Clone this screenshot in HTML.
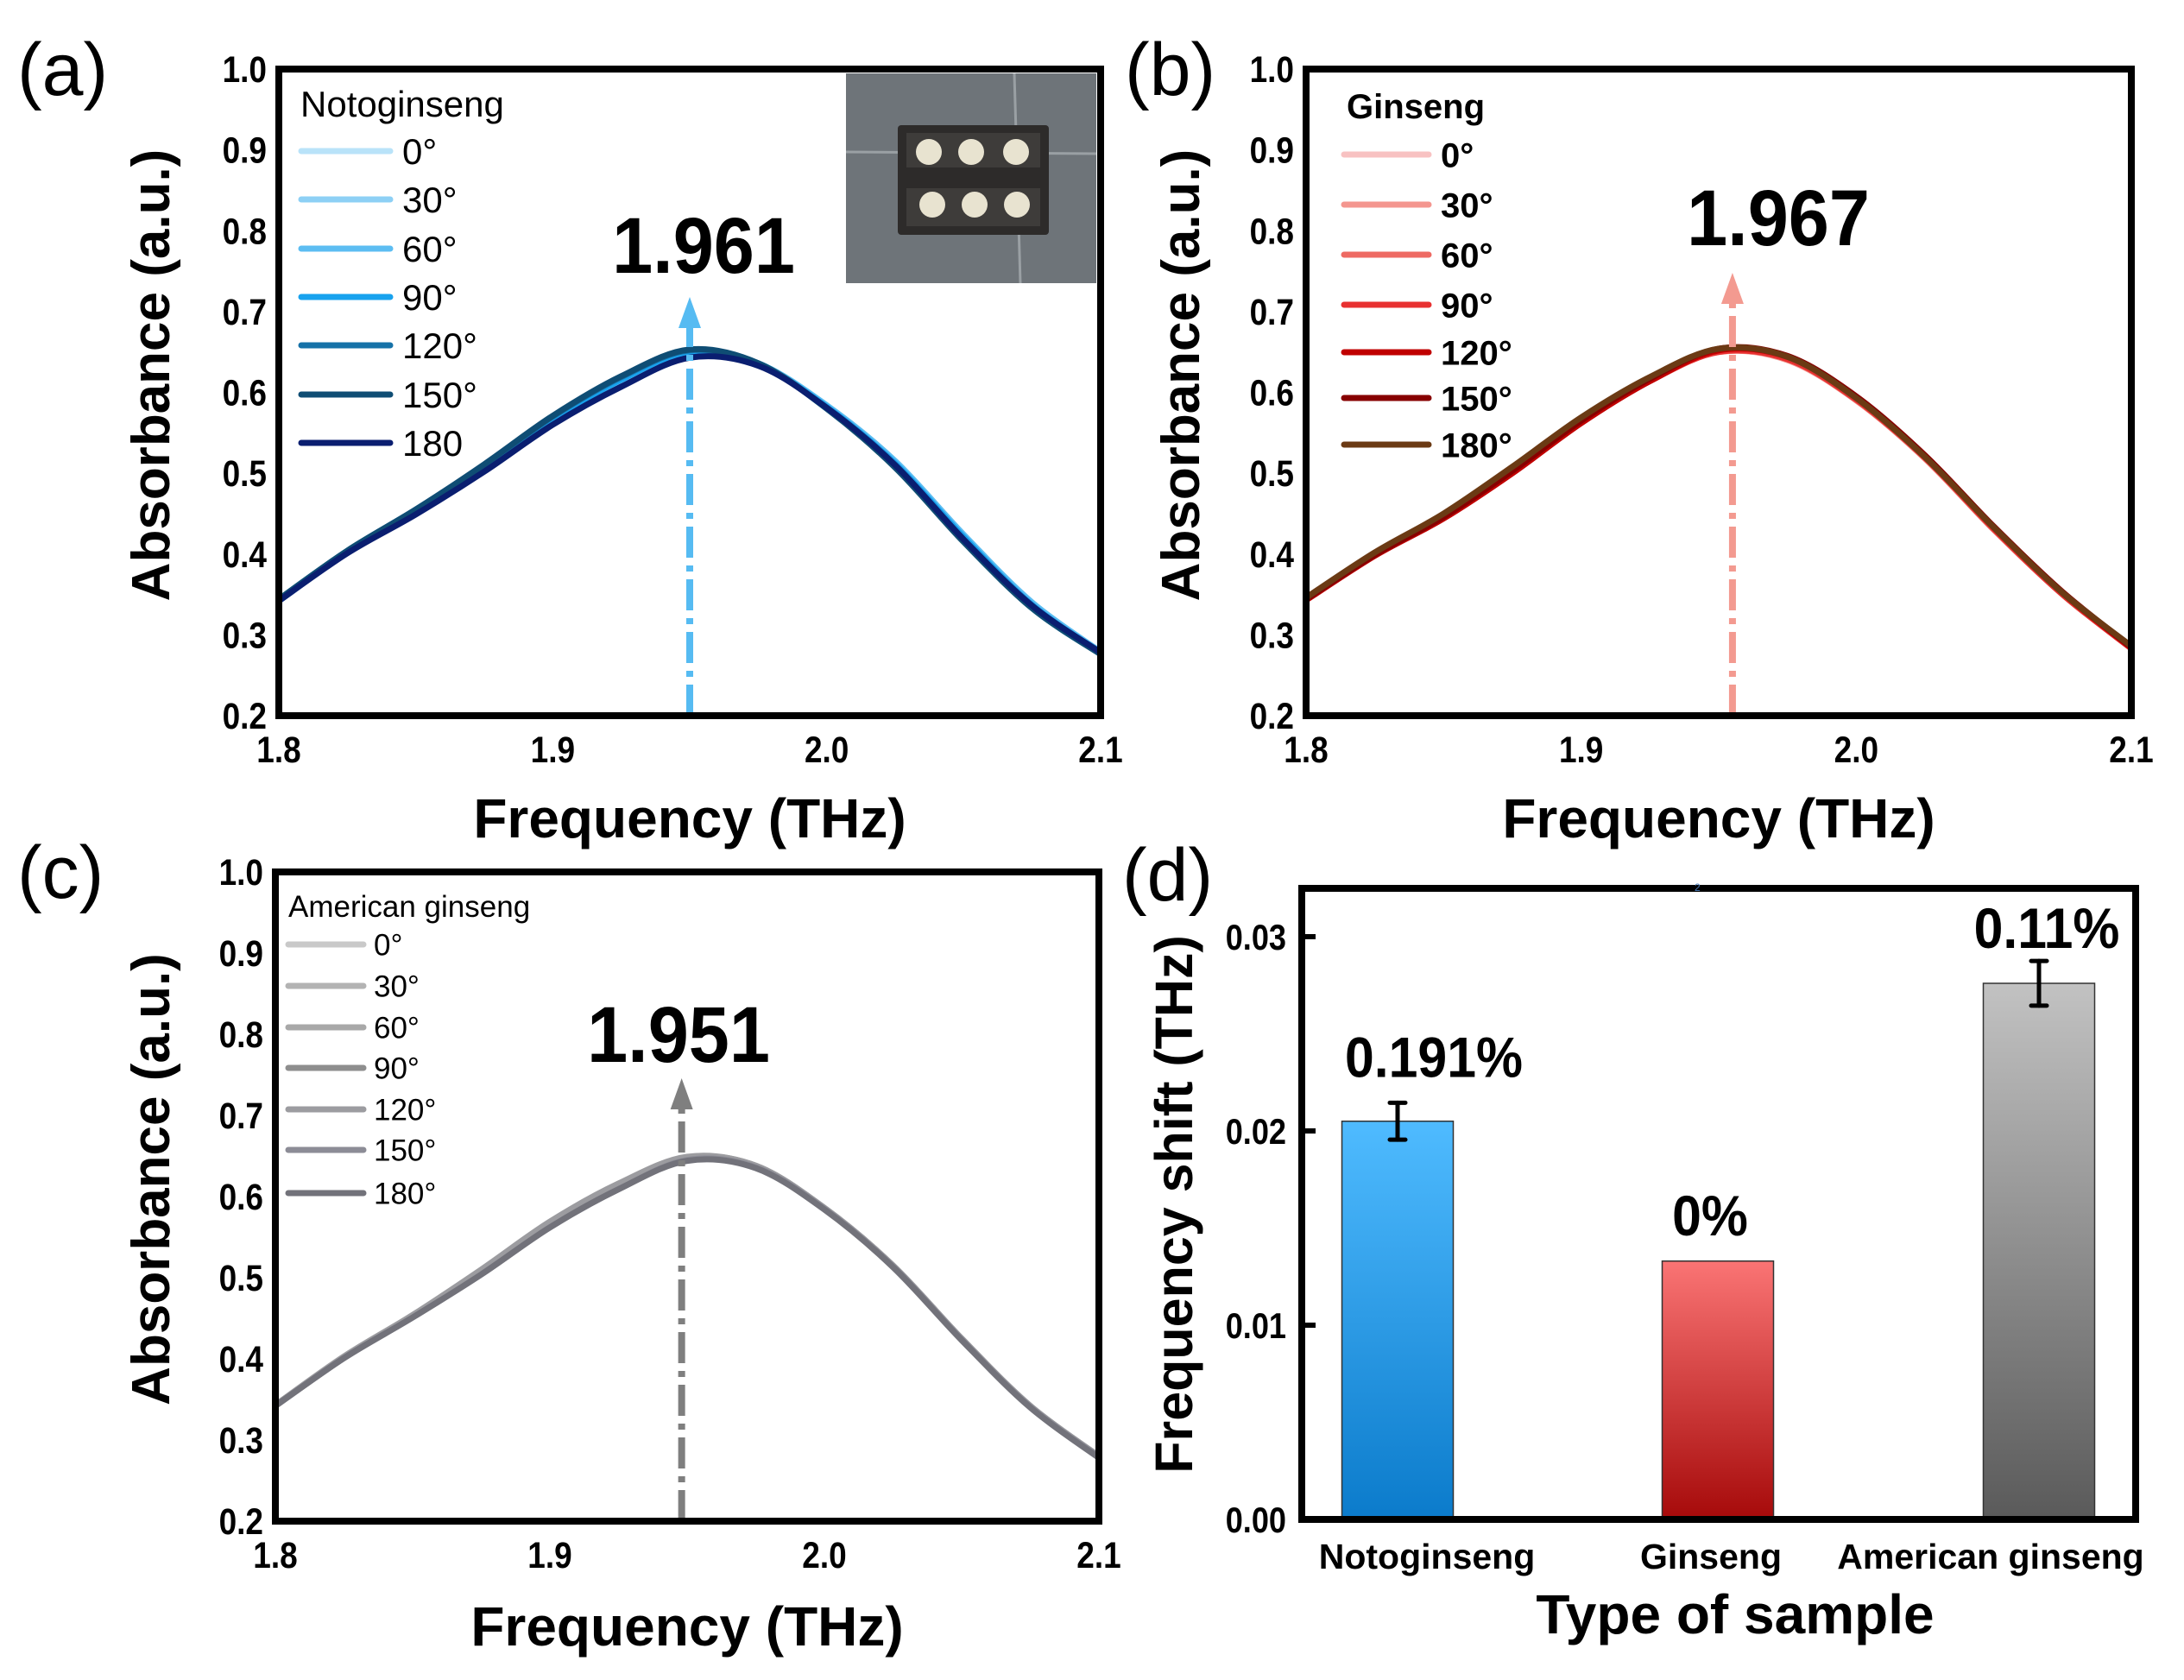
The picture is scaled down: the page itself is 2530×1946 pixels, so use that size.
<!DOCTYPE html>
<html><head><meta charset="utf-8">
<style>
html,body{margin:0;padding:0;background:#fff;}
svg{display:block;font-family:"Liberation Sans",sans-serif;}
</style></head>
<body>
<svg id="fig" width="2530" height="1946" viewBox="0 0 2530 1946" xmlns="http://www.w3.org/2000/svg">
<defs>
<linearGradient id="gBlue" x1="0" y1="0" x2="0" y2="1"><stop offset="0" stop-color="#4fbbff"/><stop offset="1" stop-color="#0b7bcb"/></linearGradient>
<linearGradient id="gRed" x1="0" y1="0" x2="0" y2="1"><stop offset="0" stop-color="#fa7474"/><stop offset="1" stop-color="#a60a0a"/></linearGradient>
<linearGradient id="gGray" x1="0" y1="0" x2="0" y2="1"><stop offset="0" stop-color="#c2c2c2"/><stop offset="1" stop-color="#5a5a5a"/></linearGradient>
</defs>
</svg>
<script>
// ---------- data ----------
const freqs = [1.8,1.825,1.85,1.875,1.9,1.925,1.95,1.975,2.0,2.025,2.05,2.075,2.1];
const angleLabelsA = ["0°","30°","60°","90°","120°","150°","180"];
const angleLabelsBC = ["0°","30°","60°","90°","120°","150°","180°"];
const xTicks = [1.8,1.9,2.0,2.1];
const xTickLabels = ["1.8","1.9","2.0","2.1"];
const yTicks = [0.2,0.3,0.4,0.5,0.6,0.7,0.8,0.9,1.0];
const yTickLabels = ["0.2","0.3","0.4","0.5","0.6","0.7","0.8","0.9","1.0"];

const notoSeries = [
 [0.343,0.402,0.452,0.505,0.565,0.612,0.648,0.634,0.582,0.512,0.420,0.338,0.278],
 [0.342,0.403,0.451,0.506,0.566,0.614,0.649,0.635,0.583,0.510,0.418,0.336,0.277],
 [0.343,0.402,0.452,0.507,0.567,0.615,0.650,0.636,0.584,0.515,0.424,0.340,0.279],
 [0.342,0.402,0.453,0.508,0.567,0.616,0.650,0.635,0.582,0.512,0.421,0.337,0.278],
 [0.344,0.404,0.455,0.510,0.570,0.619,0.652,0.636,0.580,0.508,0.416,0.333,0.276],
 [0.344,0.404,0.455,0.511,0.571,0.620,0.653,0.636,0.580,0.507,0.415,0.333,0.276],
 [0.342,0.401,0.449,0.502,0.560,0.607,0.643,0.633,0.581,0.510,0.418,0.336,0.278]
];
const ginsengSeries = [
 [0.344,0.399,0.446,0.503,0.565,0.615,0.650,0.640,0.590,0.518,0.430,0.350,0.284],
 [0.344,0.399,0.446,0.503,0.565,0.615,0.650,0.640,0.590,0.518,0.430,0.350,0.284],
 [0.344,0.399,0.447,0.504,0.566,0.616,0.651,0.641,0.591,0.519,0.431,0.351,0.284],
 [0.343,0.398,0.445,0.501,0.563,0.614,0.650,0.641,0.591,0.519,0.431,0.350,0.283],
 [0.343,0.398,0.444,0.500,0.562,0.614,0.652,0.644,0.594,0.521,0.433,0.352,0.284],
 [0.344,0.399,0.446,0.503,0.565,0.617,0.654,0.645,0.595,0.522,0.434,0.353,0.285],
 [0.346,0.402,0.450,0.508,0.569,0.619,0.654,0.644,0.593,0.520,0.433,0.352,0.286]
];
const americanSeries = [
 [0.343,0.402,0.453,0.508,0.567,0.614,0.648,0.638,0.586,0.515,0.425,0.342,0.280],
 [0.343,0.402,0.453,0.508,0.567,0.614,0.648,0.638,0.586,0.515,0.425,0.342,0.280],
 [0.343,0.402,0.453,0.508,0.567,0.614,0.648,0.638,0.586,0.515,0.425,0.342,0.280],
 [0.342,0.401,0.452,0.506,0.565,0.612,0.647,0.637,0.585,0.514,0.424,0.341,0.279],
 [0.343,0.403,0.454,0.510,0.569,0.616,0.649,0.638,0.586,0.515,0.425,0.342,0.280],
 [0.342,0.401,0.451,0.504,0.562,0.609,0.645,0.636,0.585,0.514,0.424,0.341,0.279],
 [0.342,0.401,0.451,0.504,0.562,0.609,0.644,0.635,0.584,0.513,0.423,0.340,0.278]
];
const notoColors = ["#b9e3f9","#8dd0f5","#5cbdf2","#18a2ee","#1672a8","#0f4d74","#0a1e70"];
const ginsengColors = ["#f8c2c2","#f4968f","#ee6a63","#e83131","#c00000","#870000","#6b3a14"];
const americanColors = ["#c9c9c9","#b3b3b3","#a8a8a8","#8e8e8e","#9c9ca0","#8c8c96","#72727a"];
const peakFreqs = [1.95,1.955,1.948];
const peakLabels = ["1.961","1.967","1.951"];

const barCategories = ["Notoginseng","Ginseng","American ginseng"];
const barValues = [0.0205,0.0133,0.0276];
const barErrors = [0.00095,0,0.00115];
const barLabels = ["0.191%","0%","0.11%"];
const barYTicks = [0,0.01,0.02,0.03];
const barYTickLabels = ["0.00","0.01","0.02","0.03"];

// ---------- helpers ----------
const NS="http://www.w3.org/2000/svg";
const svg=document.getElementById('fig');
function mk(tag,attrs,parent,text){
  const e=document.createElementNS(NS,tag);
  for(const k in attrs) e.setAttribute(k,attrs[k]);
  if(text!==undefined) e.textContent=text;
  (parent||svg).appendChild(e);
  return e;
}
function tick(parent,x,y,anchor,label,fs){
  return mk('text',{x:0,y:0,'font-size':fs,'font-weight':'bold','text-anchor':anchor,transform:'translate('+x+','+y+') scale(0.86,1)'},parent,label);
}
function smooth(pts){
  let d="M"+pts[0][0]+","+pts[0][1];
  for(let i=0;i<pts.length-1;i++){
    const p0=pts[Math.max(i-1,0)],p1=pts[i],p2=pts[i+1],p3=pts[Math.min(i+2,pts.length-1)];
    const c1x=p1[0]+(p2[0]-p0[0])/6,c1y=p1[1]+(p2[1]-p0[1])/6;
    const c2x=p2[0]-(p3[0]-p1[0])/6,c2y=p2[1]-(p3[1]-p1[1])/6;
    d+=" C"+c1x+","+c1y+" "+c2x+","+c2y+" "+p2[0]+","+p2[1];
  }
  return d;
}

function linePanel(cfg){
  const g=mk('g',{});
  
  
  const L=cfg.L,R=cfg.R,T=cfg.T,B=cfg.B;
  const xs=v=>L+(v-1.8)/0.3*(R-L);
  const ys=v=>B-(v-0.2)/0.8*(B-T);
  cfg.series.forEach((s,i)=>{
    const p=mk('path',{d:smooth(s.map((v,j)=>[xs(freqs[j]),ys(v)])),fill:'none',stroke:cfg.colors[i],'stroke-width':7,'stroke-linejoin':'round'},g);
    
    
  });
  const ax=xs(cfg.peak);
  const al=mk('line',{x1:ax,y1:B,x2:ax,y2:cfg.arrowTip+28,stroke:cfg.arrowColor,'stroke-width':8,'stroke-dasharray':'36 9 7 9'},g);
  
  
  const ah=mk('polygon',{points:(ax-13)+","+(cfg.arrowTip+36)+" "+(ax+13)+","+(cfg.arrowTip+36)+" "+ax+","+cfg.arrowTip,fill:cfg.arrowColor},g);
  
  
  const pl=mk('text',{x:0,y:0,'font-size':92,'font-weight':'bold','text-anchor':'middle',transform:'translate('+cfg.peakLabelX+','+cfg.peakLabelY+') scale(0.92,1)'},g,cfg.peakLabel);
  
  
  const fr=mk('rect',{x:L,y:T,width:R-L,height:B-T,fill:'none',stroke:'#000','stroke-width':8},g);
  
  
  yTicks.forEach((v,i)=>{
    const t=tick(g,L-14,ys(v)+15,'end',yTickLabels[i],43);
    
    
  });
  xTicks.forEach((v,i)=>{
    const t=tick(g,xs(v),cfg.xTickY,'middle',xTickLabels[i],43);
    
    
  });
  const xt=mk('text',{x:(L+R)/2,y:cfg.xTitleY,'font-size':64,'font-weight':'bold','text-anchor':'middle'},g,'Frequency (THz)');
  
  
  const yt=mk('text',{x:0,y:0,'font-size':62,'font-weight':'bold','text-anchor':'middle',transform:'translate('+(cfg.yTitleX+22)+','+((T+B)/2-20)+') rotate(-90)'},g,'Absorbance (a.u.)');
  
  
  const pn=mk('text',{x:cfg.panelX,y:cfg.panelY,'font-size':86},g,cfg.panel);
  
  
  const lg=mk('g',{},g);
  
  
  const lt=mk('text',{x:cfg.leg.x,y:cfg.leg.titleY,'font-size':cfg.leg.fs,'font-weight':cfg.leg.bold?'bold':'normal'},lg,cfg.legTitle);
  
  
  cfg.angles.forEach((a,i)=>{
    const y=cfg.leg.rows[i];
    const e=mk('g',{},lg);
    
    
    mk('line',{x1:cfg.leg.x1,x2:cfg.leg.x2,y1:y,y2:y,stroke:cfg.colors[i],'stroke-width':7,'stroke-linecap':'round'},e);
    mk('text',{x:cfg.leg.tx,y:y+cfg.leg.fs*0.36,'font-size':cfg.leg.fs,'font-weight':cfg.leg.bold?'bold':'normal'},e,a);
  });
  return g;
}

linePanel({name:'panel-a-notoginseng',L:323,R:1275,T:80,B:829,series:notoSeries,colors:notoColors,angles:angleLabelsA,
  peak:peakFreqs[0],arrowTip:344,arrowColor:'#56bbf2',peakLabel:peakLabels[0],peakLabelX:815,peakLabelY:316,
  xTickY:883,xTitleY:970,yTitleX:174,panel:'(a)',panelX:20,panelY:110,legTitle:'Notoginseng',
  leg:{x:348,titleY:135,fs:42,bold:false,x1:349,x2:452,tx:466,rows:[175,231,288,344,400,457,513]}});
(function(){
  const g=mk('g',{});
  
  
  mk('rect',{x:980,y:85,width:290,height:243,fill:'#6e7479'},g);
  mk('line',{x1:1175,y1:85,x2:1182,y2:328,stroke:'#9aa0a4','stroke-width':3},g);
  mk('line',{x1:980,y1:176,x2:1270,y2:178,stroke:'#9aa0a4','stroke-width':3},g);
  mk('rect',{x:1040,y:145,width:175,height:127,rx:4,fill:'#2d2b2a'},g);
  mk('rect',{x:1050,y:154,width:155,height:40,fill:'#3e3c3a'},g);
  mk('rect',{x:1050,y:218,width:155,height:44,fill:'#3e3c3a'},g);
  [[1076,176],[1125,176],[1177,176],[1080,237],[1129,237],[1178,237]].forEach(c=>{
    mk('circle',{cx:c[0],cy:c[1],r:15,fill:'#e8e3d0'},g);
  });
})();

linePanel({name:'panel-b-ginseng',L:1513,R:2469,T:80,B:829,series:ginsengSeries,colors:ginsengColors,angles:angleLabelsBC,
  peak:peakFreqs[1],arrowTip:316,arrowColor:'#f39a90',peakLabel:peakLabels[1],peakLabelX:2060,peakLabelY:284,
  xTickY:883,xTitleY:970,yTitleX:1367,panel:'(b)',panelX:1303,panelY:110,legTitle:'Ginseng',
  leg:{x:1560,titleY:137,fs:40,bold:true,x1:1557,x2:1655,tx:1669,rows:[179,237,295,353,408,461,515]}});

linePanel({name:'panel-c-american-ginseng',L:319,R:1273,T:1010,B:1762,series:americanSeries,colors:americanColors,angles:angleLabelsBC,
  peak:peakFreqs[2],arrowTip:1249,arrowColor:'#7f7f7f',peakLabel:peakLabels[2],peakLabelX:786,peakLabelY:1230,
  xTickY:1816,xTitleY:1906,yTitleX:174,panel:'(c)',panelX:20,panelY:1040,legTitle:'American ginseng',
  leg:{x:334,titleY:1062,fs:35,bold:false,x1:334,x2:421,tx:433,rows:[1094,1142,1190,1237,1285,1332,1382]}});

// ---------- panel d ----------
(function(){
  const g=mk('g',{});
  
  
  const L=1508,R=2474,T=1029,B=1760;
  const ys=v=>B-v/0.03*(1760-1085);
  const centers=[1619,1990,2362], bw=129;
  const labelDx=[42,-9,9];
  const grads=['url(#gBlue)','url(#gRed)','url(#gGray)'];
  barValues.forEach((v,i)=>{
    const r=mk('rect',{x:centers[i]-bw/2,y:ys(v),width:bw,height:B-ys(v),fill:grads[i],stroke:'#333','stroke-width':1.5},g);
    
    
    if(barErrors[i]>0){
      const e=mk('g',{stroke:'#000','stroke-width':5,'stroke-linecap':'round'},g);
      
      
      const y1=ys(v+barErrors[i]),y2=ys(v-barErrors[i]);
      mk('line',{x1:centers[i],x2:centers[i],y1:y1,y2:y2},e);
      mk('line',{x1:centers[i]-9,x2:centers[i]+9,y1:y1,y2:y1},e);
      mk('line',{x1:centers[i]-9,x2:centers[i]+9,y1:y2,y2:y2},e);
    }
    const top=ys(v+barErrors[i]);
    const ty=Math.max(top-30,1098);
    const t=mk('text',{x:0,y:0,'font-size':66,'font-weight':'bold','text-anchor':'middle',transform:'translate('+(centers[i]+labelDx[i])+','+ty+') scale(0.92,1)'},g,barLabels[i]);
    
    
    const c=mk('text',{x:[1653,1982,2306][i],y:1817,'font-size':41,'font-weight':'bold','text-anchor':'middle'},g,barCategories[i]);
    
    
  });
  const fr=mk('path',{d:'M'+L+','+B+' V'+T+' H'+R+' V'+B+' Z',fill:'none',stroke:'#000','stroke-width':8},g);
  
  
  barYTicks.forEach((v,i)=>{
    mk('line',{x1:L,x2:L+16,y1:ys(v),y2:ys(v),stroke:'#000','stroke-width':6},g);
    const t=tick(g,1490,ys(v)+15,'end',barYTickLabels[i],42);
    
    
  });
  const xt=mk('text',{x:2010,y:1892,'font-size':64,'font-weight':'bold','text-anchor':'middle'},g,'Type of sample');
  
  
  const yt=mk('text',{x:0,y:0,'font-size':61,'font-weight':'bold','text-anchor':'middle',transform:'translate(1381,1395) rotate(-90)'},g,'Frequency shift (THz)');
  
  
  const pn=mk('text',{x:1300,y:1043,'font-size':86},g,'(d)');
  
  
  const s=mk('text',{x:1963,y:1032,'font-size':12,fill:'#4a7ab8'},g,'2');
  
  
})();
</script>
</body></html>
